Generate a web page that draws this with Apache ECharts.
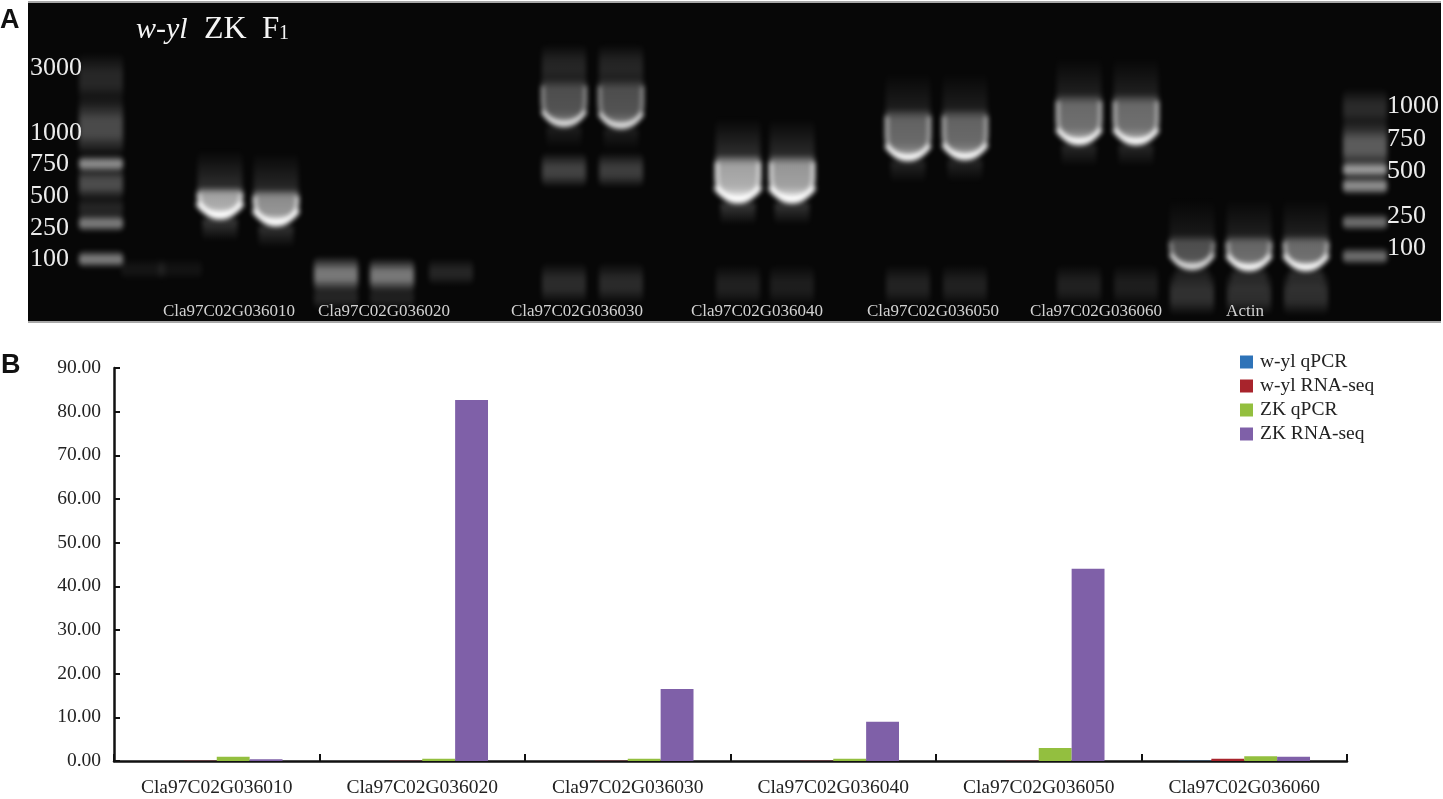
<!DOCTYPE html>
<html>
<head>
<meta charset="utf-8">
<style>
html,body{margin:0;padding:0;background:#fff}
#gelFrame{position:absolute;left:28px;top:1px;width:1413px;height:318px;background:#070707;border-top:2px solid #a8a8a8;border-bottom:2px solid #a8a8a8;overflow:hidden}
#gel{width:1413px;height:318px;filter:blur(2.6px)}
#c{position:absolute;left:0;top:0;width:1443px;height:799px;filter:blur(0.6px)}
</style>
<script src="https://cdn.jsdelivr.net/npm/echarts@6/dist/echarts.min.js"></script>
</head>
<body>
<div id="gelFrame"><div id="gel"></div></div>
<div id="c"></div>
<script>
// Panel B data
const categories = ['Cla97C02G036010','Cla97C02G036020','Cla97C02G036030','Cla97C02G036040','Cla97C02G036050','Cla97C02G036060'];
const wylQpcr   = [0.02, 0.02, 0.02, 0.02, 0.02, 0.05];
const wylRnaSeq = [0.05, 0.05, 0.05, 0.05, 0.05, 0.5];
const zkQpcr    = [1.0, 0.5, 0.5, 0.5, 3.0, 1.1];
const zkRnaSeq  = [0.4, 82.7, 16.5, 9.0, 44.0, 1.0];
const yTicks = [0,10,20,30,40,50,60,70,80,90];

// Panel A: gel readings [lane, top of band, bottom of band, intensity]
const uBands = [
  [220,188,219,1.35],[276,190,226,1.15],
  [564,80,127,0.62],[621,80,129,0.62],
  [738,156,203,1.35],[792,156,203,1.25],
  [908,110,161,0.8],[965,110,160,0.8],
  [1079,95,145,0.85],[1136,95,145,0.85],
  [1192,236,270,0.62],[1249,236,271,0.82],[1306,236,271,0.85]
];
// soft smears [lane, top, bottom, intensity]
const smears = [
  [336,256,292,0.46],[392,258,292,0.46],[451,258,286,0.12],
  [143,258,280,0.06],[180,258,280,0.05],
  [564,152,188,0.24],[621,152,188,0.22],[564,262,304,0.15],[621,262,304,0.14],
  [738,264,306,0.1],[792,264,306,0.09],[908,264,306,0.11],[965,264,306,0.1],
  [1079,264,306,0.1],[1136,264,306,0.09],
  [1192,272,316,0.17],[1249,272,316,0.16],[1306,272,316,0.16],
  [336,284,310,0.12],[392,284,310,0.1],
  [564,44,84,0.08],[621,44,84,0.08]
];
// ladder rungs [lane, top, bottom, intensity]
const ladder = [
  [101,52,104,0.13],[101,96,156,0.27],[101,155,172,0.55],[101,166,200,0.28],[101,214,232,0.48],
  [101,250,268,0.48],[101,196,220,0.12],
  [1365,88,128,0.14],[1365,120,170,0.34],[1365,161,178,0.6],[1365,176,195,0.55],[1365,213,231,0.42],[1365,247,265,0.42]
];

const SERIF = '"Liberation Serif","Times New Roman",serif';
const white = a => 'rgba(255,255,255,' + Math.min(1, a) + ')';

function uBandItem(params, api) {
  const lane = api.value(0), top = api.value(1), bottom = api.value(2), k = api.value(3);
  const a = api.coord([lane, top]), b = api.coord([lane, bottom]);
  const hw = 22.5, x = a[0], y0 = a[1], y1 = b[1];
  const r = Math.min(y1 - y0 - 4, 26);
  const d = `M${x-hw} ${y0}L${x-hw} ${y1-r}C${x-hw} ${y1-r*0.35} ${x-hw*0.55} ${y1} ${x} ${y1}C${x+hw*0.55} ${y1} ${x+hw} ${y1-r*0.35} ${x+hw} ${y1-r}L${x+hw} ${y0}Z`;
  const e = `M${x-hw+1} ${y0+6}L${x-hw+1} ${y1-r}C${x-hw+1} ${y1-r*0.35} ${x-hw*0.55} ${y1-1} ${x} ${y1-1}C${x+hw*0.55} ${y1-1} ${x+hw-1} ${y1-r*0.35} ${x+hw-1} ${y1-r}L${x+hw-1} ${y0+6}`;
  const c = `M${x-hw+2} ${y1-r*0.55}C${x-hw*0.5} ${y1-1} ${x+hw*0.5} ${y1-1} ${x+hw-2} ${y1-r*0.55}`;
  return { type:'group', silent:true, children:[
    { type:'rect', shape:{x:x-hw, y:y0-38, width:hw*2, height:38},
      style:{fill:{type:'linear',x:0,y:0,x2:0,y2:1,colorStops:[{offset:0,color:white(0)},{offset:1,color:white(0.12*k)}]}}},
    { type:'path', shape:{pathData:d},
      style:{fill:{type:'linear',x:0,y:0,x2:0,y2:1,colorStops:[
        {offset:0,color:white(0.2*k)},{offset:0.18,color:white(0.46*k)},{offset:0.65,color:white(0.5*k)},{offset:1,color:white(0.85*k)}]}}},
    { type:'path', shape:{pathData:e},
      style:{fill:null, stroke:white(0.85*k), lineWidth:3}},
    { type:'path', shape:{pathData:c},
      style:{fill:null, stroke:white(1.3*k), lineWidth:3+2.5*k, lineCap:'round'}},
    { type:'rect', shape:{x:x-hw+5, y:y1, width:hw*2-10, height:22},
      style:{fill:{type:'linear',x:0,y:0,x2:0,y2:1,colorStops:[{offset:0,color:white(0.16*k)},{offset:1,color:white(0)}]}}}
  ]};
}
function softItem(halfWidth) {
  return function (params, api) {
    const lane = api.value(0), k = api.value(3);
    const a = api.coord([lane, api.value(1)]), b = api.coord([lane, api.value(2)]);
    return { type:'rect', silent:true,
      shape:{x:a[0]-halfWidth, y:a[1], width:halfWidth*2, height:Math.max(1,b[1]-a[1]), r:6},
      style:{fill:{type:'linear',x:0,y:0,x2:0,y2:1,colorStops:[
        {offset:0,color:white(0)},{offset:0.4,color:white(k)},{offset:0.65,color:white(k)},{offset:1,color:white(0)}]}}};
  };
}

const gelText = (text, x, y, size, extra) => ({
  type:'text', x, y, silent:true, z:10,
  style:Object.assign({text, fill:'#ececec', font:`${size}px ${SERIF}`, textAlign:'left', textVerticalAlign:'middle'}, extra||{})
});
const laneLabel = (text, x) => gelText(text, x, 312, 17, {textAlign:'center', fill:'#d2d2d2'});

const graphics = [
  {type:'text', x:0, y:21, z:10, silent:true, style:{text:'A', fill:'#111', font:'bold 27px "Liberation Sans",Arial,sans-serif', textVerticalAlign:'middle'}},
  {type:'text', x:1, y:366, z:10, silent:true, style:{text:'B', fill:'#111', font:'bold 27px "Liberation Sans",Arial,sans-serif', textVerticalAlign:'middle'}},
  gelText('w-yl',136,30,30,{font:`italic 30px ${SERIF}`, fill:'#f4f4f4'}),
  gelText('ZK',204,30,32,{fill:'#f4f4f4'}),
  gelText('F',262,30,31,{fill:'#f4f4f4'}),
  gelText('1',279,34,20,{fill:'#f4f4f4'}),
  gelText('3000',30,68,26), gelText('1000',30,133,26), gelText('750',30,164,26),
  gelText('500',30,196,26), gelText('250',30,228,26), gelText('100',30,259,26),
  gelText('1000',1387,106,26), gelText('750',1387,139,26), gelText('500',1387,171,26),
  gelText('250',1387,216,26), gelText('100',1387,248,26),
  laneLabel('Cla97C02G036010',229), laneLabel('Cla97C02G036020',384), laneLabel('Cla97C02G036030',577),
  laneLabel('Cla97C02G036040',757), laneLabel('Cla97C02G036050',933), laneLabel('Cla97C02G036060',1096),
  laneLabel('Actin',1245)
];

const barLabel = {color:'#222', fontFamily:SERIF, fontSize:19.5};
const barSeries = (name, data, color) => ({
  name, type:'bar', data, barGap:0, barCategoryGap:'36%',
  itemStyle:{color}, emphasis:{disabled:true}
});

const chart = echarts.init(document.getElementById('c'), null, {renderer:'canvas'});
chart.setOption({
  animation:false, backgroundColor:'transparent', tooltip:{show:false},
  graphic:{elements:graphics},
  grid:{left:114, right:96, top:368, bottom:38, containLabel:false},
  legend:{
    show:true, orient:'vertical', left:1235, top:347, itemWidth:13, itemHeight:13, itemGap:4,
    icon:'rect', selectedMode:false,
    textStyle:{color:'#222', fontFamily:SERIF, fontSize:19.5, lineHeight:20, padding:[0,0,0,2]},
    data:['w-yl qPCR','w-yl RNA-seq','ZK qPCR','ZK RNA-seq']
  },
  xAxis:{type:'category', data:categories,
    axisLine:{lineStyle:{color:'#111',width:2.5}},
    axisTick:{show:true, inside:true, length:7, lineStyle:{color:'#111',width:2}, alignWithLabel:false},
    axisLabel:Object.assign({margin:17, interval:0}, barLabel)},
  yAxis:{type:'value', min:0, max:90, interval:10,
    axisLine:{show:true, lineStyle:{color:'#111',width:2.5}},
    axisTick:{show:true, inside:true, length:6, lineStyle:{color:'#111',width:2}},
    splitLine:{show:false},
    axisLabel:Object.assign({margin:13, formatter:v => yTicks.includes(v) ? v.toFixed(2) : ''}, barLabel)},
  series:[
    barSeries('w-yl qPCR', wylQpcr, '#2e73b8'),
    barSeries('w-yl RNA-seq', wylRnaSeq, '#a8242c'),
    barSeries('ZK qPCR', zkQpcr, '#93bf3f'),
    barSeries('ZK RNA-seq', zkRnaSeq, '#7f60a8')
  ]
});

const gel = echarts.init(document.getElementById('gel'), null, {renderer:'canvas'});
gel.setOption({
  animation:false, backgroundColor:'transparent', tooltip:{show:false},
  grid:{left:0, top:0, right:0, bottom:0},
  xAxis:{type:'value', show:false, min:28, max:1441, splitLine:{show:false}},
  yAxis:{type:'value', show:false, min:3, max:321, inverse:true, splitLine:{show:false}},
  series:[
    {type:'custom', data:smears, renderItem:softItem(22), silent:true, z:1},
    {type:'custom', data:ladder, renderItem:softItem(22), silent:true, z:1},
    {type:'custom', data:uBands, renderItem:uBandItem, silent:true, z:2}
  ]
});
</script>
</body>
</html>
